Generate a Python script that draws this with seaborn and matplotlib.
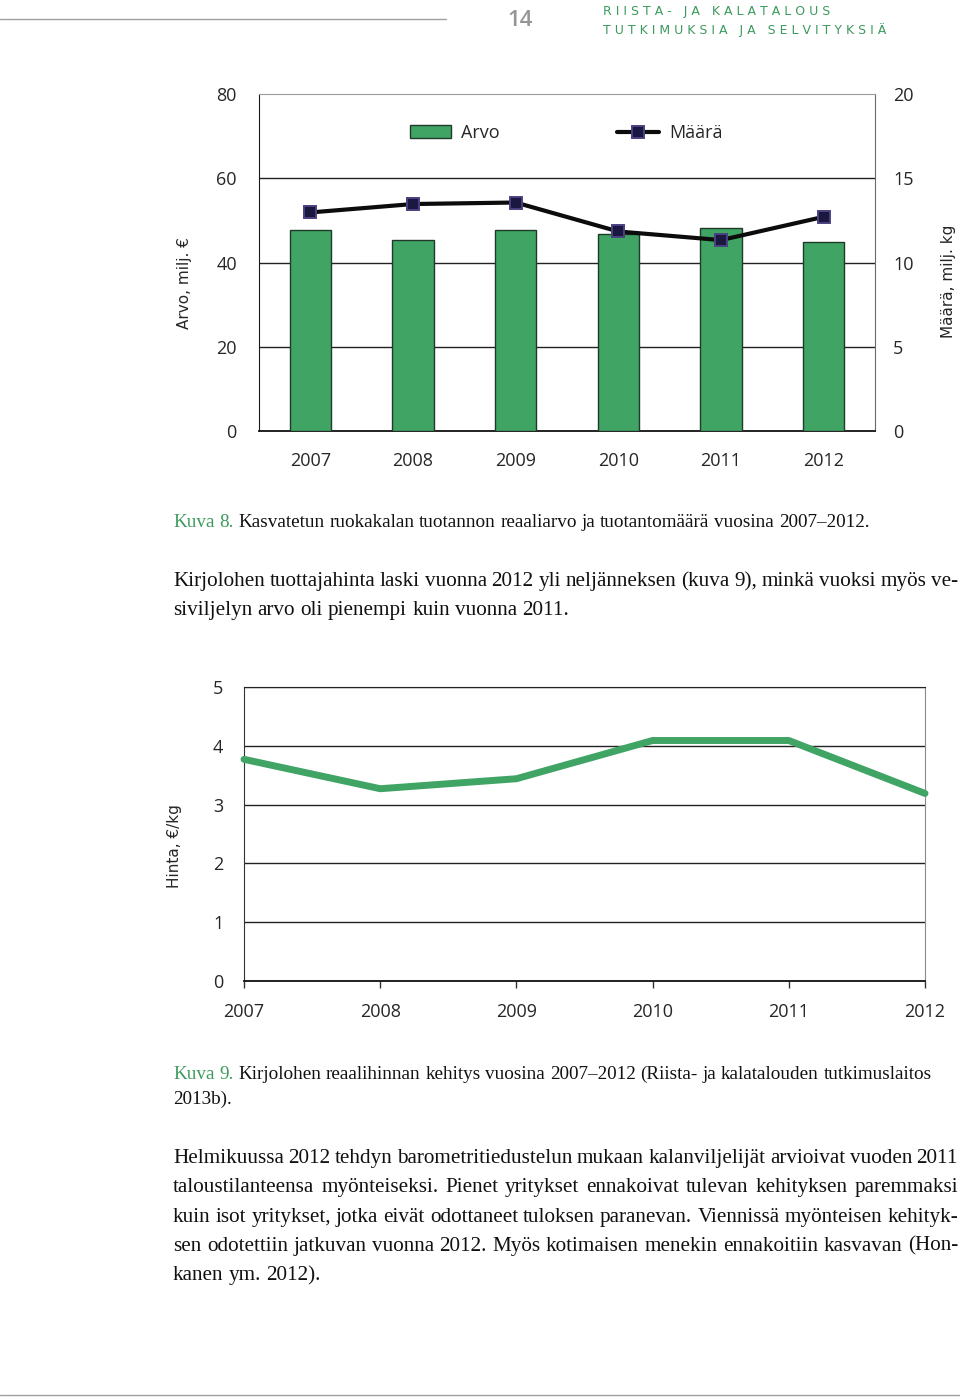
import numpy as np
import pandas as pd
import matplotlib
matplotlib.use("Agg")
import matplotlib.pyplot as plt
import seaborn as sns
from matplotlib.patches import Patch
from matplotlib.lines import Line2D
from matplotlib.transforms import IdentityTransform

# --- data read from the page ---
vuodet = ["2007", "2008", "2009", "2010", "2011", "2012"]
arvo_milj_eur = [47.8, 45.3, 47.8, 46.7, 48.3, 44.8]
maara_milj_kg = [12.97, 13.47, 13.56, 11.84, 11.33, 12.71]
hinta_eur_kg = [3.77, 3.27, 3.44, 4.09, 4.09, 3.19]

arvo_ticks = [0, 20, 40, 60, 80]
maara_ticks = [0, 5, 10, 15, 20]
hinta_ticks = [0, 1, 2, 3, 4, 5]

df = pd.DataFrame({
    "Vuosi": vuodet,
    "Arvo": arvo_milj_eur,
    "Maara": maara_milj_kg,
    "Hinta": hinta_eur_kg,
})

VIHREA = "#40a464"
REUNA = "#1f3a28"
TEKSTI_VIHREA = "#3d9a5e"
KAPEA = ["Open Sans", "DejaVu Sans"]
SERIF = ["Liberation Serif", "DejaVu Serif"]
TICK_KOKO = 13
VIIVA = dict(color="#0c0c0c", lw=3.0, marker="s", markersize=8.5,
             markerfacecolor="#1a1840", markeredgecolor="#4a4280", markeredgewidth=1.4)

sns.set_style("white")
plt.rcParams["font.family"] = ["DejaVu Sans"]

W, H = 960, 1400
fig = plt.figure(figsize=(W / 100, H / 100), dpi=100)
renderer = fig.canvas.get_renderer()


def px_ax(x0, y0, x1, y1):
    return fig.add_axes([x0 / W, 1 - y1 / H, (x1 - x0) / W, (y1 - y0) / H])


# --- kuva 8: bars + line on twin axis ---
ax1 = px_ax(259, 94, 875, 431)
sns.barplot(data=df, x="Vuosi", y="Arvo", color=VIHREA, saturation=1,
            width=0.4, edgecolor=REUNA, linewidth=1.0, ax=ax1, zorder=3)
ax1.set_xlim(-0.5, 5.5)
ax1.set_ylim(0, 80)
ax1.set_yticks(arvo_ticks)
for v in arvo_ticks[1:-1]:
    ax1.axhline(v, color="#222222", lw=1.0, zorder=1)
ax1.set_xlabel("")
ax1.set_ylabel("Arvo, milj. €", fontsize=11)
ax1.yaxis.set_label_coords(-0.109, 0.44)
ax1.set_xticks(np.arange(0.5, 5, 1), minor=True)
ax1.tick_params(axis="x", which="major", length=0, pad=15)
ax1.tick_params(axis="x", which="minor", direction="in", length=5, width=1, color="#333333")
ax1.tick_params(axis="y", length=0, pad=16)
for lab in ax1.get_xticklabels() + ax1.get_yticklabels():
    lab.set_family(KAPEA)
    lab.set_fontsize(TICK_KOKO)
ax1.spines["left"].set_color("#1a1a1a")
ax1.spines["right"].set_color("#6a6a6a")
ax1.spines["top"].set_color("#9a9a9a")
ax1.spines["bottom"].set_color("#111111")
ax1.spines["bottom"].set_linewidth(1.3)

ax2 = ax1.twinx()
sns.lineplot(x=np.arange(len(vuodet)), y=df["Maara"], ax=ax2, zorder=5, **VIIVA)
ax2.set_ylim(0, 20)
ax2.set_yticks(maara_ticks)
ax2.set_ylabel("Määrä, milj. kg", fontsize=11)
ax2.yaxis.set_label_coords(1.107, 0.445)
ax2.tick_params(axis="y", length=0, pad=13)
for lab in ax2.get_yticklabels():
    lab.set_family(KAPEA)
    lab.set_fontsize(TICK_KOKO)
for s in ["left", "right", "top", "bottom"]:
    ax2.spines[s].set_visible(False)
ax1.set_xlim(-0.5, 5.5)

kahvat = [
    Patch(facecolor=VIHREA, edgecolor=REUNA, linewidth=1.0),
    Line2D([0], [0], **VIIVA),
]
ax2.legend(kahvat, ["Arvo", "Määrä"], loc="center left", bbox_to_anchor=(0.245, 0.884),
           ncol=2, frameon=False, borderpad=0, borderaxespad=0, handlelength=2.3,
           handletextpad=0.55, columnspacing=6.5, prop={"family": KAPEA, "size": TICK_KOKO})

# --- kuva 9: price line ---
ax3 = px_ax(244, 687, 925, 981)
vuosi_nro = df["Vuosi"].astype(int)
sns.lineplot(x=vuosi_nro, y=df["Hinta"], color=VIHREA, lw=5, solid_capstyle="round",
             solid_joinstyle="round", clip_on=False, ax=ax3, zorder=4)
ax3.set_xlim(2007, 2012)
ax3.set_ylim(0, 5)
ax3.set_xticks(vuosi_nro)
ax3.set_xticklabels(vuodet)
ax3.set_yticks(hinta_ticks)
ax3.yaxis.grid(True, color="#222222", lw=1.0)
ax3.set_axisbelow(True)
ax3.set_xlabel("")
ax3.set_ylabel("Hinta, €/kg", fontsize=11)
ax3.yaxis.set_label_coords(-0.091, 0.46)
ax3.tick_params(axis="x", direction="out", length=5, width=1, color="#333333", pad=11, bottom=True)
ax3.tick_params(axis="y", length=0, pad=15)
for lab in ax3.get_xticklabels() + ax3.get_yticklabels():
    lab.set_family(KAPEA)
    lab.set_fontsize(TICK_KOKO)
ax3.spines["left"].set_color("#333333")
ax3.spines["right"].set_color("#8a8a8a")
ax3.spines["top"].set_color("#222222")
ax3.spines["bottom"].set_color("#111111")
ax3.spines["bottom"].set_linewidth(1.3)

# --- page header / footer ---
fig.add_artist(Line2D([0, 446 / W], [1 - 19 / H] * 2, color="#a0a0a0", lw=1.0))
fig.add_artist(Line2D([0, 1], [1 - 1395 / H] * 2, color="#a0a0a0", lw=1.0))
fig.text(520 / W, 1 - 20 / H, "14", family=KAPEA, fontsize=16, fontweight="semibold",
         color="#959595", ha="center", va="center")


def harva(s):
    return "   ".join(" ".join(sana) for sana in s.split())


fig.text(603 / W, 1 - 11 / H, harva("RIISTA- JA KALATALOUS"), family=["DejaVu Sans"],
         fontsize=9, color=TEKSTI_VIHREA, ha="left", va="center")
fig.text(603 / W, 1 - 30 / H, harva("TUTKIMUKSIA JA SELVITYKSIÄ"), family=["DejaVu Sans"],
         fontsize=9, color=TEKSTI_VIHREA, ha="left", va="center")


# --- body text, word by word so lines can be justified ---
def valin_leveys(koko):
    a = fig.text(0, 0, "x x", family=SERIF, fontsize=koko)
    b = fig.text(0, 0, "xx", family=SERIF, fontsize=koko)
    d = a.get_window_extent(renderer).width - b.get_window_extent(renderer).width
    a.remove()
    b.remove()
    return d


def rivi(y, osat, koko, x0=173, x1=None):
    sanat = [(s, c) for teksti, c in osat for s in teksti.split()]
    tekstit = [fig.text(0, 0, s, family=SERIF, fontsize=koko, color=c, va="baseline",
                        transform=IdentityTransform()) for s, c in sanat]
    leveydet = [t.get_window_extent(renderer).width for t in tekstit]
    if x1 is not None and len(tekstit) > 1:
        vali = (x1 - x0 - sum(leveydet)) / (len(tekstit) - 1)
    else:
        vali = valin_leveys(koko)
    x = x0
    for t, w in zip(tekstit, leveydet):
        t.set_position((x, H - y))
        x += w + vali


MUSTA = "#111111"
KUVATEKSTI = 13.8
LEIPA = 15.2

rivi(527, [("Kuva 8.", TEKSTI_VIHREA),
           ("Kasvatetun ruokakalan tuotannon reaaliarvo ja tuotantomäärä vuosina 2007–2012.", MUSTA)],
     KUVATEKSTI)
rivi(586, [("Kirjolohen tuottajahinta laski vuonna 2012 yli neljänneksen (kuva 9), minkä vuoksi myös ve-",
            MUSTA)], LEIPA, x1=958)
rivi(615, [("siviljelyn arvo oli pienempi kuin vuonna 2011.", MUSTA)], LEIPA)

rivi(1079, [("Kuva 9.", TEKSTI_VIHREA),
            ("Kirjolohen reaalihinnan kehitys vuosina 2007–2012 (Riista- ja kalatalouden tutkimuslaitos",
             MUSTA)], KUVATEKSTI)
rivi(1104, [("2013b).", MUSTA)], KUVATEKSTI)

kappale = [
    "Helmikuussa 2012 tehdyn barometritiedustelun mukaan kalanviljelijät arvioivat vuoden 2011",
    "taloustilanteensa myönteiseksi. Pienet yritykset ennakoivat tulevan kehityksen paremmaksi",
    "kuin isot yritykset, jotka eivät odottaneet tuloksen paranevan. Viennissä myönteisen kehityk-",
    "sen odotettiin jatkuvan vuonna 2012. Myös kotimaisen menekin ennakoitiin kasvavan (Hon-",
    "kanen ym. 2012).",
]
for i, teksti in enumerate(kappale):
    rivi(1163 + i * 29.3, [(teksti, MUSTA)], LEIPA,
         x1=958 if i < len(kappale) - 1 else None)

fig.savefig("out.png", dpi=100)
